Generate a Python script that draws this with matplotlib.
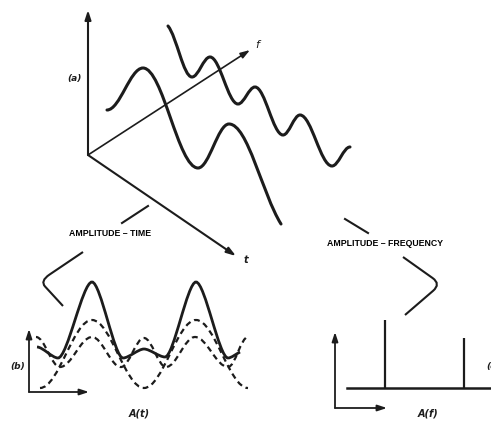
import matplotlib
matplotlib.use("Agg")
import matplotlib.pyplot as plt
from matplotlib.path import Path
from matplotlib.patches import PathPatch

INK = "#1c1c1c"

# ---- (a) 3-D sketch : knots of the two waves (x, y, slope at knot)
front_x = [107, 143, 198, 229, 281]
front_y = [110, 68, 168, 124, 224]
front_slope = [0, 0, 0, 0, 1.6]

back_x = [168, 192, 210, 238, 255, 283, 300, 332, 350]
back_y = [26, 77, 57, 104, 87, 135, 115, 166, 147]
back_slope = [1.2, 0, 0, 0, 0, 0, 0, 0, 0]

origin_a = (88, 155)
amp_axis_tip = (88, 10)
f_axis_tip = (250, 50)
t_axis_tip = (236, 256)

# ---- (b) amplitude-time : sum (solid) and the two components (dashed)
sum_x = [37, 58, 92, 123, 144, 165, 196, 228, 240]
sum_y = [347, 358, 282, 358, 349, 357, 282, 358, 352]
sum_slope = [0, 0, 0, 0, 0, 0, 0, 0, -0.5]

fund_x = [40, 92, 144, 196, 248]
fund_y = [388, 320, 388, 320, 388]

harm_x = [36, 60, 92, 121, 144, 166, 195, 228, 248]
harm_y = [337, 367, 337, 367, 338, 367, 337, 367, 337]

origin_b = (29, 392)

# ---- (c) amplitude-frequency : spectrum lines
spike_x = [385, 464]
spike_top = [320, 338]
spec_base = 388
spec_base_x = [347, 495]
origin_c = (335, 408)

# brackets (start, corner, end)
bracket_time = [(83, 252), (40, 281), (63, 306)]
bracket_freq = [(403, 257), (441, 284), (405, 315)]
tick_time = [(122, 223), (148, 206)]
tick_freq = [(345, 219), (368, 233)]


def smooth_path(xs, ys, slopes=None, k=0.36):
    if slopes is None:
        slopes = [0] * len(xs)
    verts = [(xs[0], ys[0])]
    codes = [Path.MOVETO]
    for i in range(len(xs) - 1):
        d = (xs[i + 1] - xs[i]) * k
        verts += [(xs[i] + d, ys[i] + d * slopes[i]),
                  (xs[i + 1] - d, ys[i + 1] - d * slopes[i + 1]),
                  (xs[i + 1], ys[i + 1])]
        codes += [Path.CURVE4] * 3
    return Path(verts, codes)


def bracket_path(pts, r=0.22):
    (x0, y0), (xc, yc), (x1, y1) = pts
    a = (xc + (x0 - xc) * r, yc + (y0 - yc) * r)
    b = (xc + (x1 - xc) * r, yc + (y1 - yc) * r)
    return Path([(x0, y0), a, (xc, yc), b, (x1, y1)],
                [Path.MOVETO, Path.LINETO, Path.CURVE3, Path.CURVE3, Path.LINETO])


def arrow(ax, start, tip, lw=1.4):
    ax.annotate("", xy=tip, xytext=start,
                arrowprops=dict(arrowstyle="-|>,head_length=0.55,head_width=0.18",
                                lw=lw, color=INK, shrinkA=0, shrinkB=0))


fig = plt.figure(figsize=(4.91, 4.23), dpi=100)
ax = fig.add_axes([0, 0, 1, 1])
ax.set_xlim(0, 491)
ax.set_ylim(423, 0)
ax.axis("off")

# (a)
arrow(ax, origin_a, amp_axis_tip, lw=1.5)
arrow(ax, origin_a, f_axis_tip, lw=1.2)
arrow(ax, origin_a, t_axis_tip, lw=1.5)
ax.add_patch(PathPatch(smooth_path(front_x, front_y, front_slope), fill=False,
                       lw=2.2, edgecolor=INK, capstyle="round"))
ax.add_patch(PathPatch(smooth_path(back_x, back_y, back_slope), fill=False,
                       lw=2.2, edgecolor=INK, capstyle="round"))
ax.text(74, 78, "(a)", fontsize=6.5, fontweight="bold", style="italic",
        ha="center", va="center", color=INK)
ax.text(257, 45, "f", fontsize=8, style="italic",
        ha="center", va="center", color=INK)
ax.text(246, 260, "t", fontsize=7, style="italic", fontweight="bold",
        ha="center", va="center", color=INK)

# labels and brackets
lbl = dict(fontsize=6.3, fontweight="heavy", family="Liberation Sans",
           ha="center", va="center", color="black")
ax.text(110, 233, "AMPLITUDE – TIME", **lbl)
ax.text(385, 244, "AMPLITUDE – FREQUENCY", **lbl)
for pts in (bracket_time, bracket_freq):
    ax.add_patch(PathPatch(bracket_path(pts), fill=False, lw=1.5, edgecolor=INK))
for seg in (tick_time, tick_freq):
    ax.plot([p[0] for p in seg], [p[1] for p in seg], color=INK, lw=1.5)

# (b)
arrow(ax, origin_b, (29, 329), lw=1.3)
arrow(ax, origin_b, (89, 392), lw=1.3)
ax.add_patch(PathPatch(smooth_path(sum_x, sum_y, sum_slope, k=0.28), fill=False,
                       lw=2.0, edgecolor=INK))
ax.add_patch(PathPatch(smooth_path(fund_x, fund_y), fill=False, lw=1.6,
                       edgecolor=INK, linestyle=(0, (2.6, 1.8))))
ax.add_patch(PathPatch(smooth_path(harm_x, harm_y), fill=False, lw=1.6,
                       edgecolor=INK, linestyle=(0, (2.6, 1.8))))
ax.text(18, 366, "(b)", fontsize=6.5, fontweight="bold", style="italic",
        ha="center", va="center", color=INK)
ax.text(139, 413, "A(t)", fontsize=7, fontweight="bold", style="italic",
        ha="center", va="center", color=INK)

# (c) -- label sits on the right edge, cut off as in the source
arrow(ax, origin_c, (335, 332), lw=1.3)
arrow(ax, origin_c, (387, 408), lw=1.3)
ax.plot(spec_base_x, [spec_base, spec_base], color=INK, lw=1.8)
ax.vlines(spike_x, spec_base, spike_top, color=INK, lw=1.6)
ax.text(486, 366, "(c)", fontsize=6.5, fontweight="bold", style="italic",
        ha="left", va="center", color=INK)
ax.text(428, 413, "A(f)", fontsize=7, fontweight="bold", style="italic",
        ha="center", va="center", color=INK)

fig.savefig("out.png", dpi=100, facecolor="white")
